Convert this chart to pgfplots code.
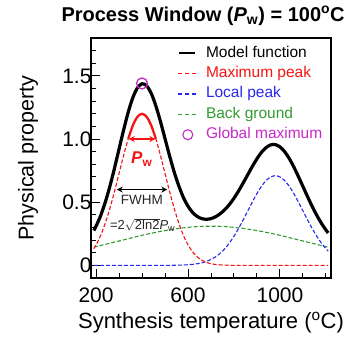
\documentclass[border=0pt]{standalone}
\usepackage{fontspec}
\setmainfont{Liberation Sans}
\usepackage{pgfplots}
\pgfplotsset{compat=1.18}
\usepackage{pgfplotstable}
\usetikzlibrary{arrows.meta}
\definecolor{cred}{RGB}{245,20,20}
\definecolor{cblue}{RGB}{40,40,235}
\definecolor{cgreen}{RGB}{50,155,50}
\definecolor{cmag}{RGB}{200,40,200}
\pgfplotsset{
  legblack/.style={legend image code/.code={\draw[black, line width=1.6pt] (1pt,0pt) -- (17pt,0pt);}},
  legred/.style={legend image code/.code={\draw[cred, line width=1.4pt, dash pattern=on 4pt off 3pt] (0pt,0pt) -- (19pt,0pt);}},
  legblue/.style={legend image code/.code={\draw[cblue, line width=1.3pt, dash pattern=on 4pt off 3pt] (0pt,0pt) -- (19pt,0pt);}},
  leggreen/.style={legend image code/.code={\draw[cgreen, line width=1.3pt, dash pattern=on 4pt off 3pt] (0pt,0pt) -- (19pt,0pt);}},
  legmag/.style={legend image code/.code={\draw[cmag, line width=1.1pt] (9.5pt,0pt) circle[radius=5pt];}},
  dsh/.style={line width=1.1pt, dash pattern=on 4pt off 2pt},
}
\pgfplotstableread{
x r g b m
190 0.132 0.144 0.000 0.276
200 0.162 0.148 0.000 0.310
220 0.237 0.157 0.000 0.394
240 0.334 0.166 0.000 0.500
260 0.450 0.175 0.000 0.625
280 0.584 0.184 0.000 0.768
300 0.728 0.193 0.000 0.921
320 0.871 0.202 0.000 1.073
340 1.002 0.211 0.000 1.213
360 1.108 0.220 0.000 1.328
380 1.176 0.229 0.000 1.405
400 1.200 0.238 0.000 1.438
420 1.176 0.246 0.000 1.422
440 1.108 0.254 0.000 1.362
460 1.002 0.261 0.000 1.263
480 0.871 0.269 0.000 1.140
500 0.728 0.275 0.000 1.003
520 0.584 0.282 0.000 0.866
540 0.450 0.287 0.001 0.738
560 0.334 0.293 0.002 0.629
580 0.237 0.297 0.003 0.537
600 0.162 0.301 0.005 0.468
620 0.107 0.304 0.008 0.419
640 0.067 0.307 0.013 0.387
660 0.041 0.309 0.020 0.370
680 0.024 0.310 0.031 0.365
700 0.013 0.310 0.047 0.370
720 0.007 0.310 0.068 0.385
740 0.004 0.309 0.096 0.409
760 0.002 0.307 0.132 0.441
780 0.001 0.304 0.177 0.482
800 0.000 0.301 0.231 0.532
820 0.000 0.297 0.292 0.589
840 0.000 0.293 0.360 0.653
860 0.000 0.287 0.431 0.718
880 0.000 0.282 0.502 0.784
900 0.000 0.275 0.569 0.844
920 0.000 0.269 0.627 0.896
940 0.000 0.261 0.672 0.933
960 0.000 0.254 0.700 0.954
980 0.000 0.246 0.710 0.956
1000 0.000 0.238 0.700 0.938
1020 0.000 0.229 0.672 0.901
1040 0.000 0.220 0.627 0.847
1060 0.000 0.211 0.569 0.780
1080 0.000 0.202 0.502 0.704
1100 0.000 0.193 0.431 0.624
1120 0.000 0.184 0.360 0.544
1140 0.000 0.175 0.292 0.467
1160 0.000 0.166 0.231 0.397
1180 0.000 0.157 0.177 0.334
1200 0.000 0.148 0.132 0.280
1210 0.000 0.144 0.113 0.257
}\datatab
\begin{document}
\begin{tikzpicture}
\path[use as bounding box] (-91pt,-58pt) rectangle (261pt,278pt);
\begin{axis}[
  scale only axis, width=240pt, height=240pt,
  xmin=178, xmax=1222, ymin=-0.1, ymax=1.8,
  xtick={200,600,1000},
  minor xtick={300,400,500,700,800,900,1100,1200},
  ytick={0,0.5,1,1.5}, yticklabels={0,0.5,1.0,1.5},
  minor ytick={0.1,0.2,0.3,0.4,0.6,0.7,0.8,0.9,1.1,1.2,1.3,1.4,1.6,1.7},
  tick align=inside, xtick pos=left, ytick pos=left,
  major tick length=9pt, minor tick length=5pt,
  every tick/.style={black, line width=1pt},
  axis line style={line width=1.2pt},
  tick label style={font=\fontsize{21}{24}\selectfont},
  /pgf/number format/assume math mode=true,
  /pgf/number format/1000 sep={},
  xticklabel style={yshift=-6pt},
  yticklabel style={xshift=4pt},
  xlabel={Synthesis temperature (\textsuperscript{o}C)},
  x label style={at={(axis description cs:0.5,-0.185)}, anchor=center, font=\fontsize{22}{26}\selectfont},
  ylabel={Physical property},
  y label style={at={(axis description cs:-0.2625,0.5)}, anchor=center, font=\fontsize{21.5}{26}\selectfont},
  title={\textbf{Process Window (\textit{P}\textsubscript{w}) = 100\textsuperscript{o}C}},
  title style={at={(axis description cs:0.467,1.067)}, anchor=center, font=\fontsize{20}{24}\selectfont},
  legend cell align=left,
  legend style={at={(axis description cs:0.36,0.967)}, anchor=north west, inner sep=0pt, draw=none, fill=none,
    column sep=8pt, row sep=6.4pt, font=\fontsize{15.5}{18}\selectfont,
    nodes={inner sep=0pt, text height=11pt, text depth=3pt}},
]
\addlegendimage{legblack}
\addlegendentry{Model function}
\addlegendimage{legred}
\addlegendentry{\textcolor{cred}{Maximum peak}}
\addlegendimage{legblue}
\addlegendentry{\textcolor{cblue}{Local peak}}
\addlegendimage{leggreen}
\addlegendentry{\textcolor{cgreen}{Back ground}}
\addlegendimage{legmag}
\addlegendentry{\textcolor{cmag}{Global maximum}}

\addplot[cgreen, dsh, smooth, forget plot] table[x=x,y=g]{\datatab};
\addplot[cblue, dsh, smooth, forget plot] table[x=x,y=b]{\datatab};
\addplot[cred, dsh, smooth, forget plot] table[x=x,y=r]{\datatab};
\addplot[black, line width=3.2pt, smooth, forget plot] table[x=x,y=m]{\datatab};
\addplot[cred, line width=2.3pt, smooth, forget plot] coordinates {(340,1.002) (360,1.108) (380,1.176) (400,1.200) (420,1.176) (440,1.108) (460,1.002)};
\addplot[only marks, mark=o, mark size=5.5pt, cmag, line width=1.3pt, forget plot] coordinates {(400,1.44)};
\addplot[cred, line width=1.3pt, {Stealth[length=6pt,width=6pt]}-{Stealth[length=6pt,width=6pt]}, forget plot] coordinates {(342,1.0) (458,1.0)};
\addplot[black, line width=1.3pt, {Stealth[length=6pt,width=6pt]}-{Stealth[length=6pt,width=6pt]}, forget plot] coordinates {(290,0.6) (510,0.6)};
\node[cred, anchor=base, font=\bfseries\fontsize{17}{20}\selectfont] at (axis cs:399,0.807) {\textit{P}\textsubscript{w}};
\node[black!85, anchor=base, inner sep=0pt, font=\fontsize{13.5}{16}\selectfont] at (axis cs:399,0.48) {FWHM};
\node[black!85, anchor=base, inner sep=0pt, font=\fontsize{13}{16}\selectfont] at (axis cs:403,0.28) {=2$\sqrt{\mbox{2ln2}}$\textit{P}\textsubscript{w}};
\end{axis}
\end{tikzpicture}
\end{document}
